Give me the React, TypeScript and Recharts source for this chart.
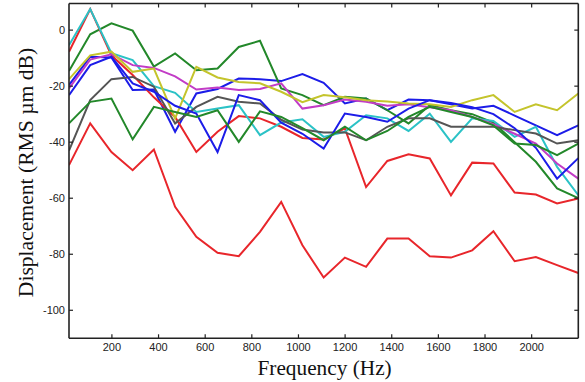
import React from 'react';
import { LineChart, Line, XAxis, YAxis } from 'recharts';

const frequency = [16, 107, 198, 289, 380, 471, 562, 653, 744, 835, 926, 1017, 1108, 1199, 1290, 1381, 1472, 1563, 1654, 1745, 1836, 1927, 2018, 2109, 2200];

const blue1 = [-19.6, -9.5, -9.8, -21.4, -21.2, -36.3, -22.6, -21, -17.3, -17.5, -18.2, -15.7, -18.8, -26.2, -24.4, -28.6, -24.8, -25, -26.5, -28, -27, -30.5, -34, -37.5, -34];
const green1 = [-14.6, -1.5, 2.4, -0.2, -13, -8.3, -14.3, -13.7, -6, -3.8, -20.8, -23.2, -26.8, -23.8, -24.4, -28.6, -33.3, -26.8, -28.6, -30, -33, -40, -47, -56.5, -60];
const red1 = [-7.7, 7.5, -9, -16, -24, -31, -43.5, -36.3, -30.7, -31.5, -34.5, -38.5, -39, -35.1, -56, -46.7, -44.3, -45.8, -59, -47.3, -47.6, -58, -58.7, -61.9, -60.1];
const cyan = [-5.4, 7.5, -8.2, -10.7, -20, -22.4, -29.2, -28, -26.8, -37.5, -33, -31.8, -38.1, -36.3, -30.4, -31.5, -36, -29.8, -39.9, -31.5, -32.4, -38.1, -34.5, -48.8, -58.9];
const magenta = [-20.8, -10.5, -8.6, -12.5, -13.5, -16.5, -21.2, -20.5, -21.4, -21, -19, -28, -26.8, -24.8, -25.6, -27, -26.5, -27.5, -28.6, -31, -33.6, -37, -40.5, -47.6, -53];
const yellow = [-17.5, -9, -7.7, -14.9, -13.7, -31.5, -13.1, -16.9, -18.5, -19, -22, -25.7, -23.2, -24, -25, -25.5, -26.2, -26.5, -27.4, -25, -23.2, -29.2, -26.5, -28.6, -22.6];
const gray = [-43, -25, -17.5, -16.7, -20.2, -33.3, -27.4, -23.8, -25.6, -26.2, -32, -35.5, -36.5, -36.5, -39.3, -34.5, -31.5, -31.5, -34.5, -34.5, -34.5, -35.7, -36.9, -40.5, -39.3];
const blue2 = [-23.2, -12.5, -9.5, -19, -22, -27, -29.8, -43.5, -23.2, -25, -33, -37, -42.3, -29.8, -31, -32.7, -28, -25, -26, -27.5, -30, -35, -42, -53, -45.7];
const green2 = [-33.3, -25.6, -24.4, -39, -27.4, -29.2, -31, -28.6, -39.9, -29, -31, -35, -39.3, -34.5, -39.3, -36, -31, -27.4, -29.2, -31, -34, -40.5, -41, -44.6, -40.5];
const red2 = [-48.2, -33.3, -43.5, -50, -42.6, -63.1, -73.8, -79.5, -80.7, -72, -61.3, -76.8, -88.3, -81.2, -84.5, -74.4, -74.4, -80.7, -81.2, -78.6, -71.8, -82.5, -81, -83.9, -86.7];

const xTicks = [200, 400, 600, 800, 1000, 1200, 1400, 1600, 1800, 2000];
const yTicks = [0, -20, -40, -60, -80, -100];

const xTitle = 'Frequency (Hz)';
const yTitle = 'Displacement (RMS µm dB)';

const seriesList = [
  { key: 'blue1', values: blue1, color: '#1c1ce8' },
  { key: 'green1', values: green1, color: '#23882a' },
  { key: 'red1', values: red1, color: '#e8262b' },
  { key: 'cyan', values: cyan, color: '#2bc2c6' },
  { key: 'magenta', values: magenta, color: '#c23cc6' },
  { key: 'yellow', values: yellow, color: '#c4c42c' },
  { key: 'gray', values: gray, color: '#555555' },
  { key: 'blue2', values: blue2, color: '#1c1ce8' },
  { key: 'green2', values: green2, color: '#23882a' },
  { key: 'red2', values: red2, color: '#e8262b' },
];

const data = frequency.map((f, i) => {
  const row: Record<string, number> = { f };
  seriesList.forEach((s) => {
    row[s.key] = s.values[i];
  });
  return row;
});

const AXIS = '#222222';
const TICK_FONT = 'Arial, "Liberation Sans", Helvetica, sans-serif';
const TITLE_FONT = '"Liberation Serif", "Times New Roman", serif';

const BottomTick = (props: any) => {
  const { x, y, payload } = props;
  return (
    <g>
      <line x1={x} x2={x} y1={y} y2={y - 4} stroke={AXIS} strokeWidth={1.2} />
      <text x={x} y={y + 12.5} textAnchor="middle" fontSize={11} fill="#222" fontFamily={TICK_FONT}>
        {payload.value}
      </text>
    </g>
  );
};

const TopTick = (props: any) => {
  const { x, y } = props;
  return <line x1={x} x2={x} y1={y} y2={y + 4} stroke={AXIS} strokeWidth={1.2} />;
};

const LeftTick = (props: any) => {
  const { x, y, payload } = props;
  return (
    <g>
      <line x1={x} x2={x + 4} y1={y} y2={y} stroke={AXIS} strokeWidth={1.2} />
      <text x={x - 4} y={y + 4} textAnchor="end" fontSize={11} fill="#222" fontFamily={TICK_FONT}>
        {payload.value}
      </text>
    </g>
  );
};

const RightTick = (props: any) => {
  const { x, y } = props;
  return <line x1={x} x2={x - 4} y1={y} y2={y} stroke={AXIS} strokeWidth={1.2} />;
};

const axisLineStyle = { stroke: AXIS, strokeWidth: 1.6 };

export default function App() {
  return (
    <div style={{ position: 'absolute', left: 0, top: 0, width: 585, height: 382, background: '#fff' }}>
      <LineChart
        width={585}
        height={382}
        data={data}
        margin={{ top: 0, right: 0, bottom: 0, left: 0 }}
      >
        <XAxis
          dataKey="f"
          type="number"
          domain={[16, 2200]}
          allowDataOverflow
          ticks={xTicks}
          height={43.7}
          tickSize={0}
          tickMargin={0}
          tickLine={false}
          axisLine={axisLineStyle}
          tick={<BottomTick />}
          interval={0}
        />
        <XAxis
          xAxisId="top"
          orientation="top"
          dataKey="f"
          type="number"
          domain={[16, 2200]}
          allowDataOverflow
          ticks={xTicks}
          height={3.5}
          tickSize={0}
          tickMargin={0}
          tickLine={false}
          axisLine={axisLineStyle}
          tick={<TopTick />}
          interval={0}
        />
        <YAxis
          type="number"
          domain={[-110, 9.5]}
          allowDataOverflow
          ticks={yTicks}
          width={69}
          tickSize={0}
          tickMargin={0}
          tickLine={false}
          axisLine={axisLineStyle}
          tick={<LeftTick />}
          interval={0}
        />
        <YAxis
          yAxisId="right"
          orientation="right"
          type="number"
          domain={[-110, 9.5]}
          allowDataOverflow
          ticks={yTicks}
          width={6.7}
          tickSize={0}
          tickMargin={0}
          tickLine={false}
          axisLine={axisLineStyle}
          tick={<RightTick />}
          interval={0}
        />
        {seriesList.map((s) => (
          <Line
            key={s.key}
            type="linear"
            dataKey={s.key}
            stroke={s.color}
            strokeWidth={2}
            dot={false}
            activeDot={false}
            isAnimationActive={false}
          />
        ))}
      </LineChart>
      <svg
        width={585}
        height={382}
        style={{ position: 'absolute', left: 0, top: 0, pointerEvents: 'none' }}
      >
        <text
          transform="translate(26,172.5) rotate(-90)"
          x={0}
          y={7.3}
          textAnchor="middle"
          fontFamily={TITLE_FONT}
          fontSize={21.6}
          fill="#111"
        >
          {yTitle}
        </text>
        <text
          x={324.6}
          y={375}
          textAnchor="middle"
          fontFamily={TITLE_FONT}
          fontSize={21.3}
          fill="#111"
        >
          {xTitle}
        </text>
      </svg>
    </div>
  );
}
